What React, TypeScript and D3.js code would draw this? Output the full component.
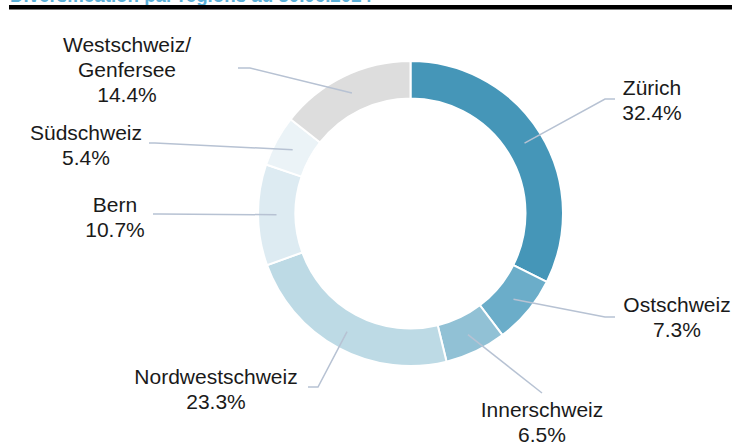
import React from 'react';
import * as d3 from 'd3';

const regions = ['Zürich', 'Ostschweiz', 'Innerschweiz', 'Nordwestschweiz', 'Bern', 'Südschweiz', 'Westschweiz/\nGenfersee'];
const shares = [32.4, 7.3, 6.5, 23.3, 10.7, 5.4, 14.4];
const colors = ['#4596b8', '#6badc9', '#91c1d5', '#bddae5', '#ddebf2', '#ebf3f7', '#dddddd'];

// label placement: elbow point, end of the leader line, text centre and first baseline
const labelLayout = [
  { elbow: [605, 99], end: [615, 99], x: 652, y: 95 },
  { elbow: [605, 317], end: [615, 317], x: 677, y: 312 },
  { elbow: [542, 393], end: [542, 393], x: 542, y: 417 },
  { elbow: [318, 387], end: [308, 387], x: 216, y: 384 },
  { elbow: [160, 214], end: [153, 214], x: 115, y: 212 },
  { elbow: [155, 143], end: [149, 143], x: 86, y: 140 },
  { elbow: [250, 68], end: [238, 68], x: 127, y: 52 },
];

const width = 732;
const height = 443;
const cx = 410.5;
const cy = 213.5;
const outerR = 152.5;
const innerR = 115;

export default function App() {
  const pie = d3.pie<number>().sort(null).value((d) => d);
  const arcs = pie(shares);
  const arcGen = d3.arc<d3.PieArcDatum<number>>().innerRadius(innerR).outerRadius(outerR);
  const midArc = d3.arc<d3.PieArcDatum<number>>().innerRadius(134).outerRadius(134);

  return (
    <svg
      width={width}
      height={height}
      style={{ position: 'absolute', left: 0, top: 0, background: '#fff' }}
      fontFamily="'Liberation Sans', Arial, sans-serif"
    >
      <text x={10} y={2} fontSize={20} fontWeight="bold" fill="#5bb0d8" textLength={362} lengthAdjust="spacingAndGlyphs">
        Diversification par régions au 30.06.2024
      </text>
      <rect x={9} y={5} width={width - 9} height={4.5} fill="#000" />

      <g transform={`translate(${cx},${cy})`}>
        {arcs.map((a, i) => (
          <path key={i} d={arcGen(a) || ''} fill={colors[i]} stroke="#fff" strokeWidth={2} />
        ))}
      </g>

      {arcs.map((a, i) => {
        const [sx, sy] = midArc.centroid(a);
        const l = labelLayout[i];
        const lines = [...regions[i].split('\n'), `${shares[i].toFixed(1)}%`];
        return (
          <g key={i}>
            <polyline
              points={`${cx + sx},${cy + sy} ${l.elbow[0]},${l.elbow[1]} ${l.end[0]},${l.end[1]}`}
              fill="none"
              stroke="#b7c2d3"
              strokeWidth={1.5}
            />
            <text textAnchor="middle" fontSize={21} fill="#1a1a1a">
              {lines.map((t, j) => (
                <tspan key={j} x={l.x} y={l.y + j * 25}>
                  {t}
                </tspan>
              ))}
            </text>
          </g>
        );
      })}
    </svg>
  );
}
